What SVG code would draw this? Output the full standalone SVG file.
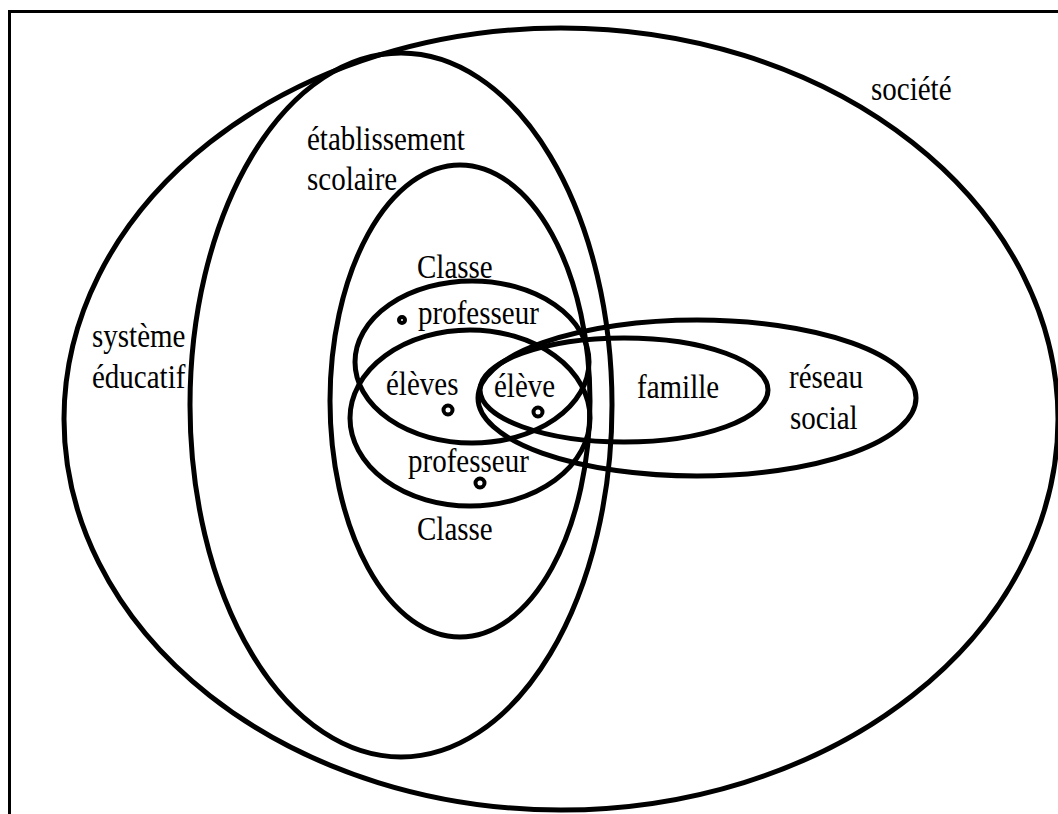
<svg xmlns="http://www.w3.org/2000/svg" width="1058" height="814" viewBox="0 0 1058 814">
<style>
.e{fill:none;stroke:#000;stroke-width:5}
.t{font-size:29px;fill:#000}
.d{fill:#fff;stroke:#000;stroke-width:4}
</style>
<rect x="0" y="0" width="1058" height="814" fill="#fff"/>
<rect x="9.5" y="11.5" width="1100" height="900" fill="none" stroke="#000" stroke-width="3"/>
<g font-family="'Liberation Serif', 'Times New Roman', 'DejaVu Serif', serif">
<g id="societe"><ellipse class="e" cx="561" cy="419" rx="497" ry="391"/><text class="t" transform="translate(871,100) scale(1,1.15)">société</text></g>
<g id="systeme"><ellipse class="e" cx="401" cy="405" rx="211" ry="352"/><text class="t" transform="translate(92,347) scale(1,1.15)">système</text><text class="t" transform="translate(92,388) scale(1,1.15)">éducatif</text></g>
<g id="etablissement"><ellipse class="e" cx="460" cy="401" rx="130" ry="236"/><text class="t" transform="translate(307,150) scale(1,1.15)">établissement</text><text class="t" transform="translate(307,190) scale(1,1.15)">scolaire</text></g>
<g id="classe1"><ellipse class="e" cx="472" cy="362" rx="117" ry="81"/><text class="t" transform="translate(417,278) scale(1,1.15)">Classe</text><text class="t" transform="translate(418,324) scale(1,1.15)">professeur</text><circle class="d" cx="402" cy="320" r="3"/></g>
<g id="classe2"><ellipse class="e" cx="470" cy="418" rx="120" ry="88"/><text class="t" transform="translate(408,472) scale(1,1.15)">professeur</text><text class="t" transform="translate(417,540) scale(1,1.15)">Classe</text><circle class="d" cx="480" cy="483" r="4.5"/></g>
<g id="eleves"><text class="t" transform="translate(386,395) scale(1,1.15)">élèves</text><circle class="d" cx="448" cy="410" r="4.5"/></g>
<g id="famille"><ellipse class="e" cx="624" cy="390" rx="144" ry="52"/><text class="t" transform="translate(637,398) scale(1,1.15)">famille</text></g>
<g id="reseau"><ellipse class="e" cx="697" cy="398" rx="219" ry="78"/><text class="t" transform="translate(789,388) scale(1,1.15)">réseau</text><text class="t" transform="translate(790,429) scale(1,1.15)">social</text></g>
<g id="eleve"><text class="t" transform="translate(494,397) scale(1,1.15)">élève</text><circle class="d" cx="538" cy="412" r="4.5"/></g>
<g id="connectors"></g>
</g>
</svg>
